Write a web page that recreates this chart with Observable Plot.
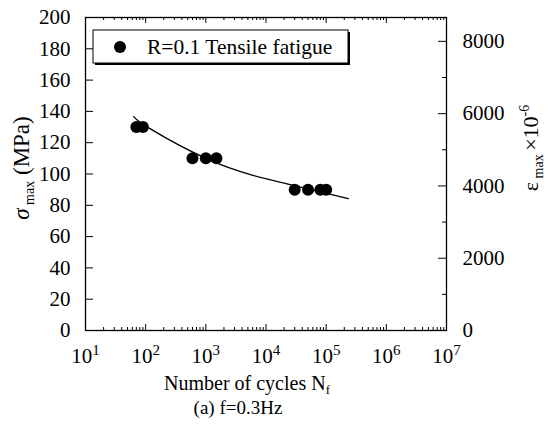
<!DOCTYPE html>
<html>
<head>
<meta charset="utf-8">
<script src="https://cdn.jsdelivr.net/npm/d3@7"></script>
<script src="https://cdn.jsdelivr.net/npm/@observablehq/plot@0.6"></script>
<style>
  html, body { margin: 0; padding: 0; background: #fff; }
  svg { display: block; }
  svg text { font-family: 'Liberation Serif', 'Times New Roman', serif; }
</style>
</head>
<body>
<div id="chart"></div>
<script>
// ---- data ----
const cycles = [70, 90, 600, 1000, 1500, 30000, 50000, 80000, 100000];
const stress = [130, 130, 110, 110, 110, 90, 90, 90, 90];
// fitted S-N curve as drawn
const curveN = [63, 120, 1000, 6250, 22400, 234000];
const curveS = [136.7, 128.8, 110, 99, 93.7, 84.3];
// axes
const xDecades = [1e1, 1e2, 1e3, 1e4, 1e5, 1e6, 1e7];
const xExponents = ["1", "2", "3", "4", "5", "6", "7"];
const yTicks = [0, 20, 40, 60, 80, 100, 120, 140, 160, 180, 200];
const strainMajor = [0, 2000, 4000, 6000, 8000];
const strainMinor = [1000, 3000, 5000, 7000];
const strainPerMPa = 43.3; // right-axis scale: strain (x10^-6) per MPa
const legendLabel = "R=0.1 Tensile fatigue";

const W = 548, H = 430;
const mL = 85, mR = 102, mT = 17, mB = 100;
const fw = W - mL - mR, fh = H - mT - mB;
const font = "'Liberation Serif', 'Times New Roman', serif";

const pts = cycles.map((n, i) => ({n, s: stress[i]}));
const curve = curveN.map((n, i) => ({n, s: curveS[i]}));
const xMinor = [];
for (let k = 0; k < 6; k++) for (let m = 2; m <= 9; m++) xMinor.push(m * xDecades[k]);

const chart = Plot.plot({
  width: W, height: H,
  marginLeft: mL, marginRight: mR, marginTop: mT, marginBottom: mB,
  style: {fontFamily: font, fontSize: "21px", color: "black", background: "white"},
  x: {type: "log", domain: [10, 1e7]},
  y: {domain: [0, 200]},
  marks: [
    // inward ticks
    Plot.tickY(yTicks, {y: d => d, insetRight: fw - 8, stroke: "black", strokeWidth: 1}),
    Plot.tickY(strainMajor.map(s => s / strainPerMPa), {y: d => d, insetLeft: fw - 8, stroke: "black", strokeWidth: 1}),
    Plot.tickY(strainMinor.map(s => s / strainPerMPa), {y: d => d, insetLeft: fw - 4, stroke: "black", strokeWidth: 1}),
    Plot.tickX(xDecades, {x: d => d, insetTop: fh - 6, stroke: "black", strokeWidth: 1}),
    Plot.tickX(xMinor, {x: d => d, insetTop: fh - 3, stroke: "black", strokeWidth: 1}),
    Plot.tickX(xDecades, {x: d => d, insetBottom: fh - 6, stroke: "black", strokeWidth: 1}),
    Plot.tickX(xMinor, {x: d => d, insetBottom: fh - 3, stroke: "black", strokeWidth: 1}),
    // axis labels
    Plot.axisY(yTicks, {anchor: "left", tickSize: 0, tickPadding: 15, fontSize: 21, label: null}),
    Plot.axisY(strainMajor.map(s => s / strainPerMPa), {anchor: "right", tickSize: 0, tickPadding: 16, fontSize: 21, label: null,
      tickFormat: d => String(Math.round(d * strainPerMPa))}),
    Plot.axisX(xDecades, {anchor: "bottom", tickSize: 0, tickPadding: 18, fontSize: 21, label: null,
      tickFormat: d => "10|" + xExponents[xDecades.indexOf(d)]}),
    Plot.frame({stroke: "black", strokeWidth: 1.3}),
    // data
    Plot.line(curve, {x: "n", y: "s", curve: "natural", stroke: "black", strokeWidth: 1.3}),
    Plot.dot(pts, {x: "n", y: "s", r: 6, fill: "black", stroke: "none"})
  ]
});

document.getElementById("chart").appendChild(chart);

const svg = d3.select(chart);

// render x tick labels as 10 with a raised exponent
svg.selectAll("text").each(function() {
  const t = d3.select(this);
  const s = t.text();
  if (/^10\|\d$/.test(s)) {
    const [base, exp] = s.split("|");
    t.text(null);
    t.append("tspan").text(base);
    t.append("tspan").attr("font-size", 15).attr("dy", "-0.55em").text(exp);
  }
});

// decorations: legend, axis titles, caption
const g = svg.append("g").attr("fill", "black").attr("text-anchor", "start")
  .style("font-family", font);

// legend
g.append("rect").attr("x", 95).attr("y", 32).attr("width", 255).attr("height", 33).attr("fill", "black");
g.append("rect").attr("x", 93).attr("y", 30).attr("width", 255).attr("height", 33)
  .attr("fill", "white").attr("stroke", "black").attr("stroke-width", 1);
g.append("circle").attr("cx", 120).attr("cy", 47).attr("r", 6).attr("fill", "black");
g.append("text").attr("x", 147).attr("y", 54).attr("font-size", 21.5).attr("text-anchor", "start").text(legendLabel);

// left y title
const ly = g.append("text").attr("transform", "translate(29,168) rotate(-90)")
  .attr("text-anchor", "middle").attr("font-size", 23);
ly.append("tspan").attr("font-style", "italic").text("\u03C3");
ly.append("tspan").attr("font-size", 14).attr("dy", 5).text(" max");
ly.append("tspan").attr("dy", -5).text(" (MPa)");

// right y title
const ry = g.append("text").attr("transform", "translate(538,148) rotate(-90)")
  .attr("text-anchor", "middle").attr("font-size", 22);
ry.append("tspan").text("\u03B5");
ry.append("tspan").attr("font-size", 14).attr("dy", 5).text(" max ");
ry.append("tspan").attr("dy", -5).text("\u00D710");
ry.append("tspan").attr("font-size", 14).attr("dy", -9).text("-6");

// x title
const xt = g.append("text").attr("x", 247).attr("y", 390).attr("text-anchor", "middle").attr("font-size", 20);
xt.append("tspan").text("Number of cycles N");
xt.append("tspan").attr("font-size", 13).attr("dy", 4).text("f");

// caption
g.append("text").attr("x", 238).attr("y", 414).attr("text-anchor", "middle").attr("font-size", 19).text("(a) f=0.3Hz");
</script>
</body>
</html>
